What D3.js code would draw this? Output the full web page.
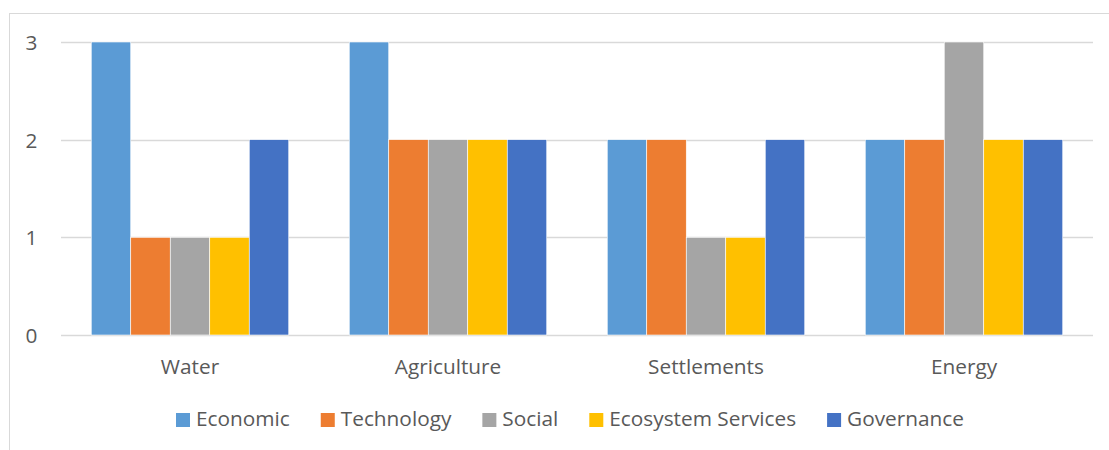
<!DOCTYPE html>
<html>
<head>
<meta charset="utf-8">
<script src="https://cdn.jsdelivr.net/npm/d3@7"></script>
<style>
  html, body { margin: 0; padding: 0; background: #fff; }
  svg { display: block; }
  text { font-family: "Open Sans", "Noto Sans", sans-serif; fill: #595959; }
</style>
</head>
<body>
<svg id="chart" width="1109" height="450"></svg>
<script>
// Sectors on the x axis
const categories = ["Water", "Agriculture", "Settlements", "Energy"];

// Score per sector for each dimension
const economic   = [3, 3, 2, 2];
const technology = [1, 2, 2, 2];
const social     = [1, 2, 1, 3];
const ecosystem  = [1, 2, 1, 2];
const governance = [2, 2, 2, 2];

const seriesNames  = ["Economic", "Technology", "Social", "Ecosystem Services", "Governance"];
const seriesColors = ["#5B9BD5", "#ED7D31", "#A5A5A5", "#FFC000", "#4472C4"];
const yTicks = [0, 1, 2, 3];

const seriesValues = [economic, technology, social, ecosystem, governance];

const svg = d3.select("#chart");
const fontSize = 20.8;

// Chart frame (extends past the visible area on the right and bottom)
svg.append("rect")
  .attr("x", 9.5).attr("y", 13.5)
  .attr("width", 1200).attr("height", 600)
  .attr("fill", "none").attr("stroke", "#d9d9d9").attr("stroke-width", 1);

const plot = { left: 61, right: 1093, top: 42, bottom: 335 };

const y = d3.scaleLinear().domain([0, 3]).range([plot.bottom, plot.top]);

const x0 = d3.scaleBand()
  .domain(categories)
  .range([plot.left, plot.right])
  .paddingInner(0.2345)
  .paddingOuter(0.11725);

const x1 = d3.scaleBand()
  .domain(seriesNames)
  .range([0, x0.bandwidth()])
  .padding(0);

// Horizontal gridlines
svg.append("g")
  .selectAll("line")
  .data(yTicks)
  .join("line")
  .attr("x1", plot.left).attr("x2", plot.right)
  .attr("y1", d => Math.round(y(d)) + 0.5)
  .attr("y2", d => Math.round(y(d)) + 0.5)
  .attr("stroke", "#d9d9d9")
  .attr("stroke-width", 1.3);

// Y axis labels
const yAxis = d3.axisLeft(y).tickValues(yTicks).tickFormat(d3.format("d")).tickSize(0).tickPadding(0);
const yg = svg.append("g").attr("transform", "translate(37.5,0)").call(yAxis);
yg.select(".domain").remove();
yg.selectAll("text")
  .attr("font-size", fontSize)
  .attr("font-family", null)
  .attr("fill", "#595959")
  .attr("dy", "0.36em");

// Bars
const groups = svg.append("g")
  .selectAll("g")
  .data(categories)
  .join("g")
  .attr("transform", d => `translate(${x0(d)},0)`);

groups.selectAll("rect")
  .data((c, i) => seriesNames.map((s, j) => ({ s, j, v: seriesValues[j][i] })))
  .join("rect")
  .attr("x", d => x1(d.s))
  .attr("width", x1.bandwidth())
  .attr("y", d => y(d.v))
  .attr("height", d => y(0) - y(d.v))
  .attr("fill", d => seriesColors[d.j])
  .attr("stroke", "#fff")
  .attr("stroke-width", 0.6);

// Category labels
const xAxis = d3.axisBottom(x0).tickSize(0).tickPadding(0);
const xg = svg.append("g").attr("transform", `translate(0,${plot.bottom})`).call(xAxis);
xg.select(".domain").remove();
xg.selectAll("text")
  .attr("font-size", fontSize)
  .attr("font-family", null)
  .attr("fill", "#595959")
  .attr("y", 39)
  .attr("dy", 0);

// Legend
const legend = svg.append("g");
const items = legend.selectAll("g")
  .data(seriesNames)
  .join("g");
items.append("rect")
  .attr("width", 14).attr("height", 14)
  .attr("y", 413)
  .attr("fill", (d, i) => seriesColors[i]);
items.append("text")
  .attr("x", 20)
  .attr("y", 426)
  .attr("font-size", fontSize)
  .text(d => d);

let cursor = 0;
const offsets = [];
items.each(function () {
  offsets.push(cursor);
  const w = d3.select(this).select("text").node().getComputedTextLength();
  cursor += 20 + w + 31;
});
const total = cursor - 31;
const start = 570 - total / 2;
items.attr("transform", (d, i) => `translate(${start + offsets[i]},0)`);
</script>
</body>
</html>
